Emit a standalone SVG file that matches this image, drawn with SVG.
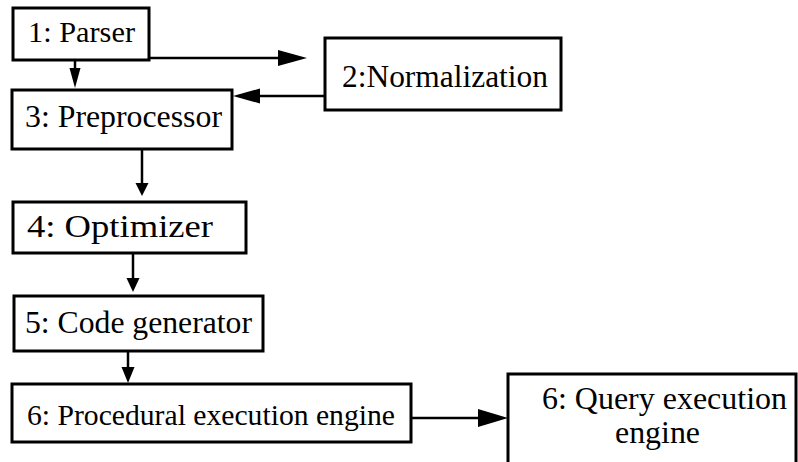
<svg xmlns="http://www.w3.org/2000/svg" width="798" height="462" viewBox="0 0 798 462">
<style>
.box{fill:#fff;stroke:#000;stroke-width:3}
.lbl{font-family:"Liberation Serif",serif;font-size:31px;fill:#000}
.ln{stroke:#000;stroke-width:2.5;fill:none}
.hd{fill:#000;stroke:none}
</style>
<rect width="798" height="462" fill="#fff"/>
<g id="connectors">
<line class="ln" x1="149" y1="58" x2="282" y2="58"/>
<polygon class="hd" points="278,50 307,58 278,66"/>
<line class="ln" x1="325" y1="96" x2="256" y2="96"/>
<polygon class="hd" points="260,88.5 233,96 260,103.5"/>
<line class="ln" x1="75" y1="60" x2="75" y2="70"/>
<polygon class="hd" points="69.5,68 80.5,68 75,88"/>
<line class="ln" x1="142" y1="149" x2="142" y2="185"/>
<polygon class="hd" points="135.5,183 148.5,183 142,196"/>
<line class="ln" x1="133" y1="253" x2="133" y2="280"/>
<polygon class="hd" points="126.5,278 139.5,278 133,292"/>
<line class="ln" x1="128" y1="351" x2="128" y2="369"/>
<polygon class="hd" points="121.5,367 134.5,367 128,383"/>
<line class="ln" x1="411" y1="418" x2="482" y2="418"/>
<polygon class="hd" points="478,409 508,418 478,427"/>
</g>
<g id="n1"><rect class="box" x="13" y="8" width="136" height="52"/><text class="lbl" x="28" y="42" style="font-size:28.5px" textLength="107" lengthAdjust="spacingAndGlyphs">1: Parser</text></g>
<g id="n2"><rect class="box" x="325" y="38" width="236" height="72"/><text class="lbl" x="342" y="87" textLength="206" lengthAdjust="spacingAndGlyphs">2:Normalization</text></g>
<g id="n3"><rect class="box" x="12" y="90" width="220" height="59"/><text class="lbl" x="25" y="127" style="font-size:31.5px" textLength="197" lengthAdjust="spacingAndGlyphs">3: Preprocessor</text></g>
<g id="n4"><rect class="box" x="13" y="202" width="233" height="51"/><text class="lbl" x="27" y="237" style="font-size:32.5px" textLength="186" lengthAdjust="spacingAndGlyphs">4: Optimizer</text></g>
<g id="n5"><rect class="box" x="14" y="296" width="249" height="55"/><text class="lbl" x="25" y="333" textLength="227" lengthAdjust="spacingAndGlyphs">5: Code generator</text></g>
<g id="n6"><rect class="box" x="12" y="384" width="399" height="58"/><text class="lbl" x="27" y="425" style="font-size:30px" textLength="368" lengthAdjust="spacingAndGlyphs">6: Procedural execution engine</text></g>
<g id="n7"><rect class="box" x="508" y="374" width="288" height="100"/><text class="lbl" x="542" y="409" textLength="245" lengthAdjust="spacingAndGlyphs">6: Query execution</text><text class="lbl" x="615" y="443" textLength="85" lengthAdjust="spacingAndGlyphs">engine</text></g>
</svg>
